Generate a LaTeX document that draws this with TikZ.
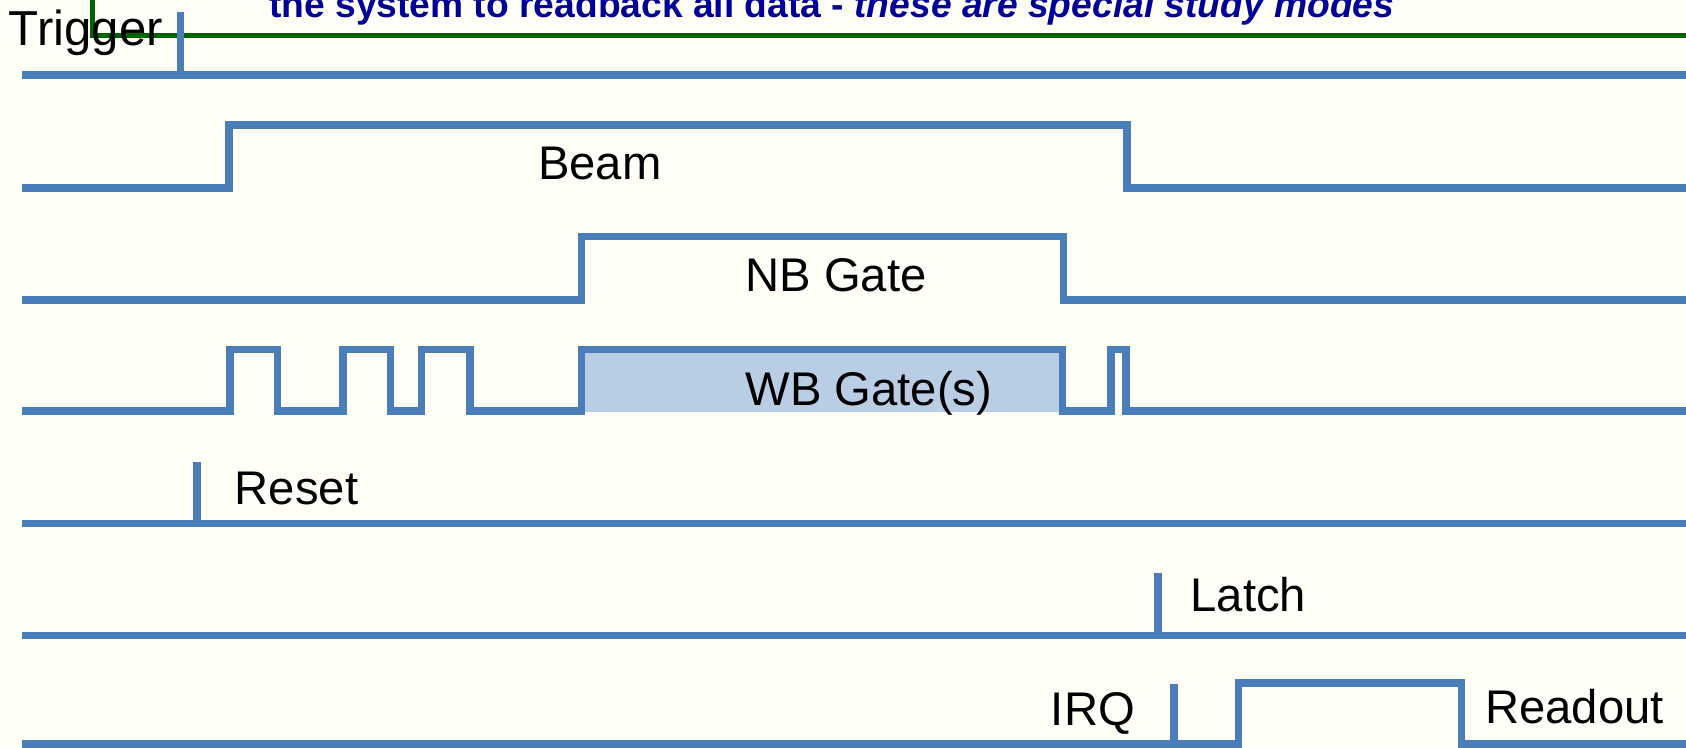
\documentclass[tikz,border=0pt]{standalone}
\usepackage{fontspec}
\setmainfont{Liberation Sans}
\definecolor{bg}{RGB}{255,255,247}
\definecolor{sig}{RGB}{74,126,187}
\definecolor{sigfill}{RGB}{185,205,229}
\definecolor{dgreen}{RGB}{0,100,0}
\definecolor{navy}{RGB}{0,0,153}
\begin{document}
\begin{tikzpicture}[x=0.02cm,y=-0.02cm,
  wave/.style={draw=sig,line width=4pt,line join=miter,line cap=butt},
  lbl/.style={anchor=base west,inner sep=0pt,font=\fontsize{25}{28}\selectfont},
  note/.style={anchor=base west,inner sep=0pt,text=navy,font=\fontsize{19.7}{23}\selectfont\bfseries}]
\useasboundingbox (0,0) rectangle (1568,695);
\clip (0,0) rectangle (1568,695);
\fill[bg] (0,0) rectangle (1568,695);
% top note and green frame
\node[note] (note) at (250,16) {the system to readback all data - \textit{these are special study modes}};
\coordinate (g0) at (86,0);
\coordinate (g1) at (86,33);
\coordinate (g2) at (1570,33);
\draw[dgreen,line width=2.4pt] (g0) -- (g1) -- (g2);
% Trigger
\node[lbl,font=\fontsize{26}{30}\selectfont] (trig) at (8,42) {Trigger};
\draw[wave] (20,70) -- (1570,70);
\draw[wave] (168,11) -- (168,70);
% Beam
\draw[wave] (20,175) -- (213,175) -- (213,116) -- (1048,116) -- (1048,175) -- (1570,175);
\node[lbl] (beam) at (500,167) {Beam};
% NB Gate
\draw[wave] (20,279) -- (541,279) -- (541,220) -- (989,220) -- (989,279) -- (1570,279);
\node[lbl] (nb) at (693,271) {NB Gate};
% WB Gate(s)
\fill[sigfill] (541,325) rectangle (988,383);
\draw[wave] (20,382) -- (214,382) -- (214,325) -- (258,325) -- (258,382)
  -- (319,382) -- (319,325) -- (363,325) -- (363,382)
  -- (392,382) -- (392,325) -- (437,325) -- (437,382)
  -- (541,382) -- (541,325) -- (988,325) -- (988,382)
  -- (1033,382) -- (1033,325) -- (1047,325) -- (1047,382) -- (1570,382);
\node[lbl] (wb) at (693,377) {WB Gate(s)};
% Reset
\draw[wave] (20,487) -- (1570,487);
\draw[wave] (183,430) -- (183,487);
\node[lbl] (reset) at (218,469) {Reset};
% Latch
\draw[wave] (20,591) -- (1570,591);
\draw[wave] (1077,533) -- (1077,591);
\node[lbl] (latch) at (1107,569) {Latch};
% IRQ / Readout
\draw[wave] (20,692) -- (1152,692) -- (1152,635) -- (1359,635) -- (1359,692) -- (1570,692);
\draw[wave] (1092,636) -- (1092,692);
\node[lbl] (irq) at (977,675) {IRQ};
\node[lbl] (readout) at (1381,673) {Readout};
\end{tikzpicture}
\end{document}
